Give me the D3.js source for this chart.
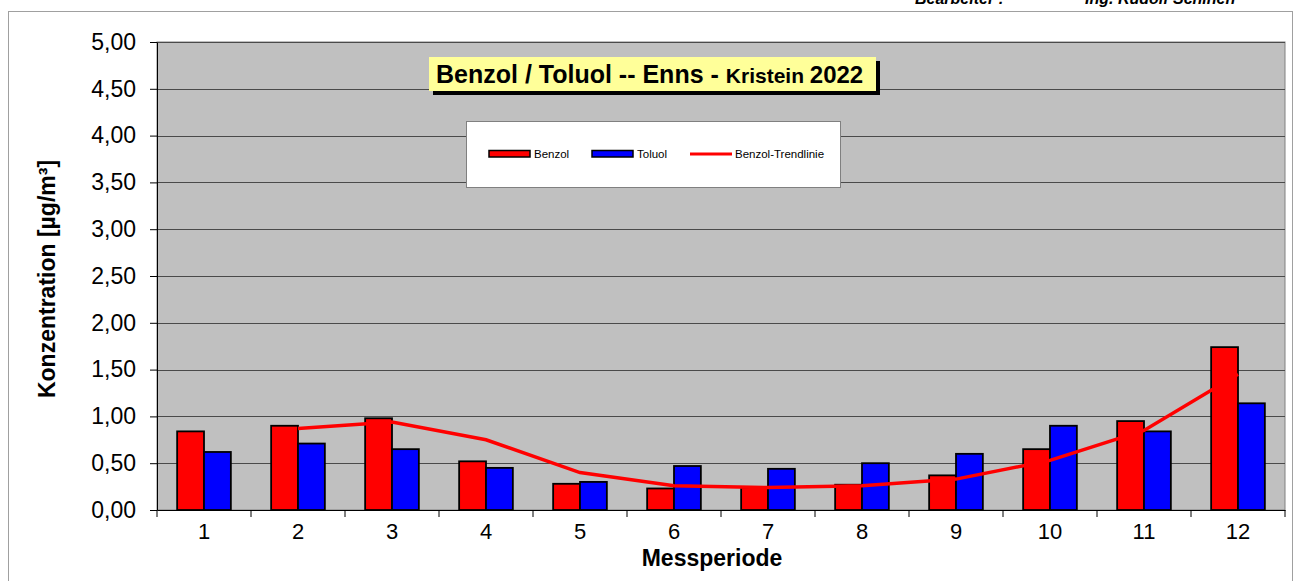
<!DOCTYPE html>
<html>
<head>
<meta charset="utf-8">
<script src="https://cdn.jsdelivr.net/npm/d3@7"></script>
<style>
  body { margin: 0; background: #fff; }
  svg { display: block; font-family: Arial, "Liberation Sans", sans-serif; }
  .axis path, .axis line { stroke: #000; }
</style>
</head>
<body>
<div id="chart"></div>
<script>
// Messperioden 1..12
const categories = ['1', '2', '3', '4', '5', '6', '7', '8', '9', '10', '11', '12'];
const benzol = [0.84, 0.90, 0.98, 0.52, 0.28, 0.23, 0.24, 0.27, 0.37, 0.65, 0.95, 1.74];
const toluol = [0.62, 0.71, 0.65, 0.45, 0.30, 0.47, 0.44, 0.50, 0.60, 0.90, 0.84, 1.14];
// trend line (starts at period 2)
const trend = [null, 0.87, 0.94, 0.75, 0.40, 0.26, 0.24, 0.26, 0.33, 0.53, 0.85, 1.45];
const yTicks = [0, 0.5, 1, 1.5, 2, 2.5, 3, 3.5, 4, 4.5, 5];
const seriesNames = ['Benzol', 'Toluol'];
const seriesColors = {Benzol: '#ff0000', Toluol: '#0000ff'};

let svgWidth = 1294, svgHeight = 581;
let margin = {top: 42, right: 9, bottom: 71, left: 157},
    chartWidth = svgWidth - margin.left - margin.right,
    chartHeight = svgHeight - margin.top - margin.bottom;

let svg = d3.select('#chart').append('svg')
    .attr('width', svgWidth)
    .attr('height', svgHeight);

// outer frame
svg.append('rect')
    .attr('x', 8.5).attr('y', 11.5)
    .attr('width', 1284).attr('height', 620)
    .attr('fill', 'none').attr('stroke', '#a0a0a0');

// header text, cut off at the top like in the original
svg.append('text')
    .attr('x', 915).attr('y', 3.5)
    .style('font-size', '16px').style('font-weight', 'bold').style('font-style', 'italic')
    .text('Bearbeiter :');
svg.append('text')
    .attr('x', 1085).attr('y', 3.5)
    .style('font-size', '16px').style('font-weight', 'bold').style('font-style', 'italic')
    .text('Ing. Rudolf Schinen');

let g = svg.append('g')
    .attr('transform', 'translate(' + margin.left + ',' + margin.top + ')');

let x = d3.scaleBand().domain(categories).range([0, chartWidth]).padding(0);
let x1 = d3.scaleBand().domain(seriesNames).range([0, x.bandwidth()])
    .paddingInner(0).paddingOuter(0.75);
let y = d3.scaleLinear().domain([0, 5]).range([chartHeight, 0]);

// plot area
g.append('rect')
    .attr('width', chartWidth).attr('height', chartHeight)
    .attr('fill', '#c0c0c0').attr('stroke', '#808080');

// grid lines
g.selectAll('line.grid').data(yTicks.filter(function (d) { return d > 0; }))
    .enter().append('line')
    .attr('class', 'grid')
    .attr('x1', 0).attr('x2', chartWidth)
    .attr('y1', function (d) { return Math.round(y(d)) + 0.5; })
    .attr('y2', function (d) { return Math.round(y(d)) + 0.5; })
    .attr('stroke', '#4a4a4a').attr('stroke-width', 1);

// bars
let groups = g.selectAll('g.cat').data(categories)
    .enter().append('g')
    .attr('class', 'cat')
    .attr('transform', function (d) { return 'translate(' + x(d) + ',0)'; });

groups.selectAll('rect')
    .data(function (d, i) {
        return [{name: 'Benzol', value: benzol[i]}, {name: 'Toluol', value: toluol[i]}];
    })
    .enter().append('rect')
    .attr('x', function (d) { return x1(d.name); })
    .attr('y', function (d) { return y(d.value); })
    .attr('width', x1.bandwidth())
    .attr('height', function (d) { return chartHeight - y(d.value); })
    .attr('fill', function (d) { return seriesColors[d.name]; })
    .attr('stroke', '#000').attr('stroke-width', 1.8);

// trend line
let trendLine = d3.line()
    .defined(function (d) { return d !== null; })
    .x(function (d, i) { return x(categories[i]) + x.bandwidth() / 2; })
    .y(function (d) { return y(d); });

g.append('path')
    .datum(trend)
    .attr('d', trendLine)
    .attr('fill', 'none')
    .attr('stroke', '#ff0000')
    .attr('stroke-width', 3.5);

// y axis
let yAxis = d3.axisLeft(y)
    .tickValues(yTicks)
    .tickSizeInner(7).tickSizeOuter(0).tickPadding(14)
    .tickFormat(function (d) { return d3.format('.2f')(d).replace('.', ','); });

let ya = g.append('g').attr('class', 'y axis').call(yAxis);
ya.selectAll('text').style('font-size', '23px').attr('fill', '#000');

// x axis: labels at band centers, tick marks at band edges
let xAxis = d3.axisBottom(x).tickSize(0).tickPadding(13);
let xa = g.append('g')
    .attr('class', 'x axis')
    .attr('transform', 'translate(0,' + chartHeight + ')')
    .call(xAxis);
xa.selectAll('text').style('font-size', '22px').attr('fill', '#000');
xa.selectAll('line.edge').data(d3.range(categories.length + 1))
    .enter().append('line')
    .attr('class', 'edge')
    .attr('x1', function (i) { return i * x.step(); })
    .attr('x2', function (i) { return i * x.step(); })
    .attr('y1', 0).attr('y2', 7)
    .attr('stroke', '#000');

// axis titles
svg.append('text')
    .attr('transform', 'translate(55,' + (margin.top + chartHeight / 2 + 3) + ') rotate(-90)')
    .style('text-anchor', 'middle')
    .style('font-size', '23px').style('font-weight', 'bold')
    .text('Konzentration [µg/m³]');

svg.append('text')
    .attr('x', 712).attr('y', 566)
    .style('text-anchor', 'middle')
    .style('font-size', '23px').style('font-weight', 'bold')
    .text('Messperiode');

// title box
svg.append('rect')
    .attr('x', 433).attr('y', 61).attr('width', 447).attr('height', 34)
    .attr('fill', '#000');
svg.append('rect')
    .attr('x', 429).attr('y', 57).attr('width', 447).attr('height', 34)
    .attr('fill', '#ffff99');
let title = svg.append('text')
    .attr('x', 436).attr('y', 83)
    .style('font-weight', 'bold');
title.append('tspan').style('font-size', '25px').text('Benzol / Toluol -- Enns - ');
title.append('tspan').style('font-size', '21px').text('Kristein ');
title.append('tspan').style('font-size', '24px').text('2022');

// legend
let legend = svg.append('g');
legend.append('rect')
    .attr('x', 466.5).attr('y', 121.5).attr('width', 374).attr('height', 66)
    .attr('fill', '#fff').attr('stroke', '#808080');

let legendItems = [
    {name: 'Benzol', x: 489, type: 'bar'},
    {name: 'Toluol', x: 592, type: 'bar'},
    {name: 'Benzol-Trendlinie', x: 690, type: 'line'}
];
legendItems.forEach(function (d) {
    if (d.type === 'bar') {
        legend.append('rect')
            .attr('x', d.x).attr('y', 150.5).attr('width', 41).attr('height', 6.5)
            .attr('fill', seriesColors[d.name]).attr('stroke', '#000').attr('stroke-width', 1.5);
    } else {
        legend.append('line')
            .attr('x1', d.x).attr('x2', d.x + 42)
            .attr('y1', 154).attr('y2', 154)
            .attr('stroke', '#ff0000').attr('stroke-width', 3);
    }
    legend.append('text')
        .attr('x', d.x + 45).attr('y', 158)
        .style('font-size', '11.5px')
        .text(d.name);
});
</script>
</body>
</html>
